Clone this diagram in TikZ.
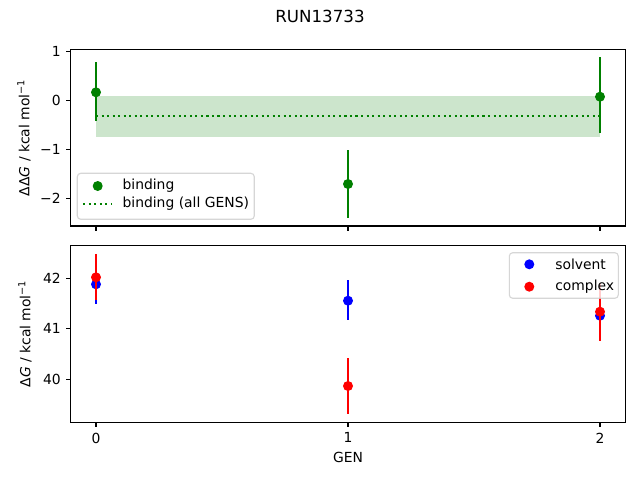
\documentclass[tikz,border=0pt]{standalone}
\usepackage{fontspec}
\setmainfont{DejaVu Sans}
\definecolor{mgreen}{RGB}{0,128,0}
\definecolor{legedge}{gray}{0.8}
\tikzset{
  spine/.style={line width=0.8pt, black},
  tickmark/.style={line width=0.8pt, black},
  ticklab/.style={font=\fontsize{10}{12}\selectfont, inner sep=0pt},
  errline/.style={line width=1.5pt},
  dotmark/.style={circle, inner sep=0pt, minimum size=7.2pt},
  legbox/.style={draw=legedge, line width=0.8pt, fill=white, fill opacity=0.8, draw opacity=0.8, rounded corners=2.5pt},
  legtext/.style={font=\fontsize{10}{12}\selectfont, anchor=west, inner sep=0pt},
  meanline/.style={mgreen, line width=1.5pt, dash pattern=on 1.5pt off 2.475pt}
}
\begin{document}
\begin{tikzpicture}[x=0.72pt,y=-0.72pt]
\useasboundingbox (0,0) rectangle (640,480);
\fill[white] (0,0) rectangle (640,480);
% title
\node[font=\fontsize{12}{14}\selectfont] (title) at (320,16.5) {RUN13733};

% ================= top axes =================
\coordinate (tTL) at (70.8,49.3);
\coordinate (tBR) at (625.2,226);
% band and mean
\fill[mgreen, fill opacity=0.2] (96,96) rectangle (600,136.7);
\coordinate (m0) at (96,116);
\coordinate (m2) at (600,116);
\draw[meanline] (m0) -- (m2);
% error bars
\coordinate (a0t) at (96,62.3);  \coordinate (a0b) at (96,121);
\coordinate (a1t) at (348,150);  \coordinate (a1b) at (348,217.7);
\coordinate (a2t) at (600,57.3); \coordinate (a2b) at (600,133.3);
\draw[errline, mgreen] (a0t) -- (a0b);
\draw[errline, mgreen] (a1t) -- (a1b);
\draw[errline, mgreen] (a2t) -- (a2b);
\node[dotmark, fill=mgreen] (g0) at (96,92.3) {};
\node[dotmark, fill=mgreen] (g1) at (348,184) {};
\node[dotmark, fill=mgreen] (g2) at (600,96.7) {};
% frame
\draw[spine] (tTL) rectangle (tBR);
% y ticks
\foreach \y/\l in {51.7/1, 100.5/0, 149.4/−1, 198.3/−2}{
  \draw[tickmark] (70.8,\y) -- (65.9,\y);
  \node[ticklab, anchor=east] at (61,\y) {\l};
}
% x ticks (no labels)
\foreach \x in {96,348,600}{
  \draw[tickmark] (\x,226) -- (\x,230.9);
}
\node[rotate=90, font=\fontsize{10}{12}\selectfont] (ylabt) at (24,137.7) {ΔΔ\textit{G} / kcal mol\textsuperscript{−1}};
% legend top
\draw[legbox] (77.3,173.3) rectangle (254.3,219.3);
\node[dotmark, fill=mgreen] (lg1) at (97.7,186) {};
\node[legtext] (lt1) at (122.3,186) {binding};
\coordinate (ld0) at (83.3,204);
\coordinate (ld1) at (112,204);
\draw[meanline] (ld0) -- (ld1);
\node[legtext] (lt2) at (122.3,204) {binding (all GENS)};

% ================= bottom axes =================
\coordinate (bTL) at (70.8,245.3);
\coordinate (bBR) at (625.2,422.3);
% solvent (blue)
\coordinate (s0t) at (96,264.3);  \coordinate (s0b) at (96,304.3);
\coordinate (s1t) at (348,280);   \coordinate (s1b) at (348,320);
\coordinate (s2t) at (600,295.7); \coordinate (s2b) at (600,335.7);
\draw[errline, blue] (s0t) -- (s0b);
\draw[errline, blue] (s1t) -- (s1b);
\draw[errline, blue] (s2t) -- (s2b);
\node[dotmark, fill=blue] (b0) at (96,284.3) {};
\node[dotmark, fill=blue] (b1) at (348,300.7) {};
\node[dotmark, fill=blue] (b2) at (600,315.7) {};
% complex (red)
\coordinate (c0t) at (96,253.8);  \coordinate (c0b) at (96,300.3);
\coordinate (c1t) at (348,358);   \coordinate (c1b) at (348,414);
\coordinate (c2t) at (600,282.7); \coordinate (c2b) at (600,340.7);
\draw[errline, red] (c0t) -- (c0b);
\draw[errline, red] (c1t) -- (c1b);
\draw[errline, red] (c2t) -- (c2b);
\node[dotmark, fill=red] (r0) at (96,277.3) {};
\node[dotmark, fill=red] (r1) at (348,386) {};
\node[dotmark, fill=red] (r2) at (600,311.7) {};
% frame
\draw[spine] (bTL) rectangle (bBR);
% y ticks
\foreach \y/\l in {278.3/42, 328.8/41, 379.3/40}{
  \draw[tickmark] (70.8,\y) -- (65.9,\y);
  \node[ticklab, anchor=east] at (61,\y) {\l};
}
% x ticks
\foreach \x/\l in {96/0,348/1,600/2}{
  \draw[tickmark] (\x,422.3) -- (\x,427.2);
  \node[ticklab, anchor=north] at (\x,432.5) {\l};
}
\node[font=\fontsize{10}{12}\selectfont] (xlab) at (348,457.5) {GEN};
\node[rotate=90, font=\fontsize{10}{12}\selectfont] (ylabb) at (25,333.8) {Δ\textit{G} / kcal mol\textsuperscript{−1}};
% legend bottom
\draw[legbox] (509.3,252.7) rectangle (618.3,298.3);
\node[dotmark, fill=blue] (lb1) at (529.3,264.3) {};
\node[legtext] (lbt1) at (555,264.3) {solvent};
\node[dotmark, fill=red] (lb2) at (529.3,286.7) {};
\node[legtext] (lbt2) at (555,286.7) {complex};
\end{tikzpicture}
\end{document}
